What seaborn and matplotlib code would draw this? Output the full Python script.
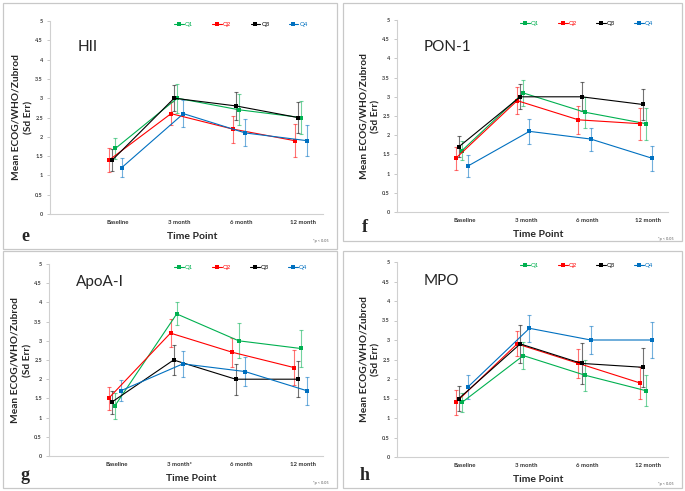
import matplotlib
matplotlib.use('Agg')
import matplotlib.pyplot as plt
import seaborn as sns
import numpy as np
import pandas as pd
from matplotlib.patches import Rectangle

# Data (mean score and SE per quartile)
time_points = ['Baseline', '3 month', '6 month', '12 month']
time_points_g = ['Baseline', '3 month*', '6 month', '12 month']
quartiles = ['Q1', 'Q2', 'Q3', 'Q4']

# e - HII
hii_q1 = [1.7, 3.0, 2.7, 2.5]
hii_q2 = [1.4, 2.6, 2.2, 1.9]
hii_q3 = [1.4, 3.0, 2.8, 2.5]
hii_q4 = [1.2, 2.6, 2.1, 1.9]
hii_q1_err = [0.28, 0.38, 0.40, 0.42]
hii_q2_err = [0.30, 0.30, 0.35, 0.42]
hii_q3_err = [0.28, 0.33, 0.37, 0.40]
hii_q4_err = [0.24, 0.35, 0.35, 0.40]

# f - PON-1
pon_q1 = [1.6, 3.1, 2.6, 2.3]
pon_q2 = [1.4, 2.9, 2.4, 2.3]
pon_q3 = [1.7, 3.0, 3.0, 2.8]
pon_q4 = [1.2, 2.1, 1.9, 1.4]
pon_q1_err = [0.25, 0.35, 0.40, 0.42]
pon_q2_err = [0.30, 0.35, 0.37, 0.42]
pon_q3_err = [0.27, 0.33, 0.38, 0.40]
pon_q4_err = [0.28, 0.32, 0.30, 0.33]

# g - ApoA-I
apo_q1 = [1.3, 3.7, 3.0, 2.8]
apo_q2 = [1.5, 3.2, 2.7, 2.3]
apo_q3 = [1.4, 2.5, 2.0, 2.0]
apo_q4 = [1.7, 2.4, 2.2, 1.7]
apo_q1_err = [0.33, 0.30, 0.46, 0.48]
apo_q2_err = [0.30, 0.37, 0.37, 0.46]
apo_q3_err = [0.30, 0.38, 0.40, 0.47]
apo_q4_err = [0.28, 0.33, 0.37, 0.36]

# h - MPO
mpo_q1 = [1.4, 2.6, 2.1, 1.7]
mpo_q2 = [1.4, 2.9, 2.4, 1.9]
mpo_q3 = [1.5, 2.9, 2.4, 2.3]
mpo_q4 = [1.8, 3.3, 3.0, 3.0]
mpo_q1_err = [0.25, 0.35, 0.40, 0.40]
mpo_q2_err = [0.33, 0.32, 0.38, 0.40]
mpo_q3_err = [0.32, 0.48, 0.52, 0.50]
mpo_q4_err = [0.30, 0.35, 0.37, 0.46]

colors = {'Q1': '#00B050', 'Q2': '#FF0000', 'Q3': '#000000', 'Q4': '#0070C0'}
# small horizontal shift per series, as in the original
shift = {'Q1': -0.04, 'Q2': -0.14, 'Q3': -0.09, 'Q4': 0.06}

panels = [
    dict(name='HII', letter='e', labels=time_points,
         vals=[hii_q1, hii_q2, hii_q3, hii_q4], errs=[hii_q1_err, hii_q2_err, hii_q3_err, hii_q4_err],
         pos=[50, 21, 323, 214], box=[3, 3, 337, 249], title_y=0.865),
    dict(name='PON-1', letter='f', labels=time_points,
         vals=[pon_q1, pon_q2, pon_q3, pon_q4], errs=[pon_q1_err, pon_q2_err, pon_q3_err, pon_q4_err],
         pos=[397, 20, 668, 212], box=[343, 3, 682, 241], title_y=0.86),
    dict(name='ApoA-I', letter='g', labels=time_points_g,
         vals=[apo_q1, apo_q2, apo_q3, apo_q4], errs=[apo_q1_err, apo_q2_err, apo_q3_err, apo_q4_err],
         pos=[49, 264, 323, 456], box=[3, 251, 337, 488], title_y=0.905),
    dict(name='MPO', letter='h', labels=time_points,
         vals=[mpo_q1, mpo_q2, mpo_q3, mpo_q4], errs=[mpo_q1_err, mpo_q2_err, mpo_q3_err, mpo_q4_err],
         pos=[397, 262, 668, 457], box=[343, 251, 682, 488], title_y=0.905),
]

sns.set_style('white')
plt.rcParams['font.family'] = ['Lato', 'DejaVu Sans']

W, H = 685, 491
fig = plt.figure(figsize=(W / 100, H / 100), dpi=100)

for p in panels:
    x0, y0, x1, y1 = p['box']
    fig.add_artist(Rectangle((x0 / W, 1 - y1 / H), (x1 - x0) / W, (y1 - y0) / H,
                             transform=fig.transFigure, fill=False, ec='#C8C8C8', lw=0.9))

    l, t, r, b = p['pos']
    ax = fig.add_axes([l / W, 1 - b / H, (r - l) / W, (b - t) / H])

    rows = []
    for q, v, e in zip(quartiles, p['vals'], p['errs']):
        for i, (vv, ee) in enumerate(zip(v, e)):
            rows.append({'quartile': q, 'x': i + 1 + shift[q], 'value': vv, 'err': ee})
    df = pd.DataFrame(rows)

    for q in quartiles:
        d = df[df['quartile'] == q]
        ax.errorbar(d['x'], d['value'], yerr=d['err'], fmt='none', ecolor=colors[q],
                    alpha=0.55, elinewidth=0.8, capsize=1.6, capthick=0.8, zorder=2)
        sns.lineplot(data=d, x='x', y='value', color=colors[q], marker='s', markersize=3.2,
                     markeredgewidth=0, linewidth=0.8, label=q, ax=ax, zorder=3)

    ax.set_xlim(-0.1, 4.32)
    ax.set_ylim(0, 5)
    ax.set_yticks(np.arange(0, 5.01, 0.5))
    ax.set_yticklabels(['0', '0.5', '1', '1.5', '2', '2.5', '3', '3.5', '4', '4.5', '5'])
    ax.set_xticks([1, 2, 3, 4])
    ax.set_xticklabels(p['labels'], fontweight='bold')
    ax.tick_params(axis='y', labelsize=4, colors='#BFBFBF', labelcolor='#404040',
                   length=2, width=0.6, pad=3, left=True)
    ax.tick_params(axis='x', labelsize=4.3, labelcolor='#303030', length=0, pad=4)
    for lab in ax.get_yticklabels():
        lab.set_fontweight('bold')
    for side in ['top', 'right']:
        ax.spines[side].set_visible(False)
    for side in ['left', 'bottom']:
        ax.spines[side].set_color('#D0D0D0')
        ax.spines[side].set_linewidth(0.8)
    ax.set_xlabel('')
    ax.set_ylabel('')

    ax.text(-0.1, 0.5, 'Mean ECOG/WHO/Zubrod\n(Sd Err)', transform=ax.transAxes,
            rotation=90, ha='center', va='center', fontsize=7.3, fontweight='bold',
            linespacing=1.5)
    ax.text(0.52, -0.115, 'Time Point', transform=ax.transAxes, ha='center', va='center',
            fontsize=7.5, fontweight='bold')
    ax.text(0.1, p['title_y'], p['name'], transform=ax.transAxes, ha='left', va='center',
            fontsize=11)
    ax.text(1.02, -0.14, '*p < 0.05', transform=ax.transAxes, ha='right', va='center',
            fontsize=2.8, color='#555555')
    fig.text((x0 + 22) / W, 1 - (y1 - 13) / H, p['letter'], fontsize=13, fontweight='bold',
             family='Liberation Serif', ha='center', va='center')

    leg = ax.legend(loc='upper center', bbox_to_anchor=(0.70, 1.01), ncol=4, frameon=False,
                    fontsize=4.3, handlelength=1.6, handletextpad=0.2, columnspacing=3.2,
                    labelcolor='linecolor', borderaxespad=0)

fig.savefig('out.png', dpi=100)
